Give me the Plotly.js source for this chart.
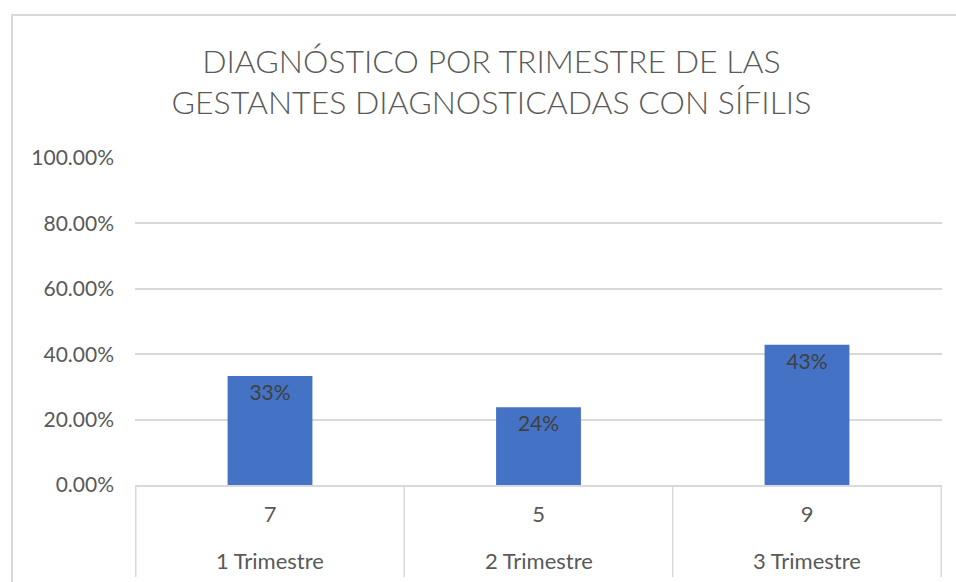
<!DOCTYPE html>
<html>
<head>
<meta charset="utf-8">
<script src="https://cdn.plot.ly/plotly-3.0.1.min.js"></script>
<style>
html,body{margin:0;padding:0;background:#fff;}
#wrap{position:relative;width:956px;height:582px;overflow:hidden;}
#chart{position:absolute;left:0;top:0;width:956px;height:582px;}
#frame{position:absolute;left:11px;top:14px;width:960px;height:600px;border-left:2px solid #d9d9d9;border-top:2px solid #d9d9d9;pointer-events:none;}
</style>
</head>
<body>
<div id="wrap"><div id="chart"></div><div id="frame"></div></div>
<script>
const trimestres = ["1 Trimestre", "2 Trimestre", "3 Trimestre"];
const casos = ["7", "5", "9"];
const porcentajes = [0.3333, 0.2381, 0.4286];
const yTicks = [0, 0.2, 0.4, 0.6, 0.8, 1.0];

const FONT = 'Lato, "Open Sans", sans-serif';

const trace = {
  type: 'bar',
  x: trimestres,
  y: porcentajes,
  width: 0.316,
  marker: {color: '#4472C4'},
  texttemplate: '%{y:.0%}',
  textposition: 'inside',
  insidetextanchor: 'end',
  textangle: 0,
  textfont: {family: FONT, size: 21, color: '#404040'},
  hoverinfo: 'skip'
};

// category divider lines below the axis (layout decoration)
const dividers = [];
for (let i = 0; i <= trimestres.length; i++) {
  dividers.push({
    type: 'line', xref: 'x', yref: 'paper',
    x0: i - 0.5, x1: i - 0.5, y0: 0, y1: -0.281,
    line: {color: '#d9d9d9', width: 1.5}
  });
}

// outer category labels
const outerLabels = trimestres.map(t => ({
  x: t, xref: 'x', y: -0.2294, yref: 'paper',
  text: t, showarrow: false, xanchor: 'center', yanchor: 'middle',
  font: {family: FONT, size: 22, color: '#595959'}
}));

const layout = {
  width: 956, height: 582,
  margin: {l: 135, r: 14, t: 158, b: 97},
  paper_bgcolor: '#ffffff', plot_bgcolor: '#ffffff',
  showlegend: false,
  title: {
    text: 'DIAGNÓSTICO POR TRIMESTRE DE LAS<br>GESTANTES DIAGNOSTICADAS CON SÍFILIS',
    font: {family: FONT, size: 32, color: '#595959', weight: 300},
    x: 0.514, xref: 'container', xanchor: 'center',
    y: 0.875, yref: 'container', yanchor: 'middle'
  },
  xaxis: {
    type: 'category',
    tickvals: trimestres,
    ticktext: casos,
    showline: true, linecolor: '#d9d9d9', linewidth: 2,
    showgrid: false, ticks: '', ticklabelstandoff: 9,
    tickfont: {family: FONT, size: 22, color: '#595959'},
    fixedrange: true
  },
  yaxis: {
    range: [0, 1],
    tickvals: yTicks,
    tickformat: '.2%',
    showline: false, zeroline: false,
    gridcolor: '#d9d9d9', gridwidth: 2,
    ticks: '', ticklabelstandoff: 20,
    tickfont: {family: FONT, size: 21, color: '#595959'},
    fixedrange: true
  },
  shapes: dividers,
  annotations: outerLabels
};

Plotly.newPlot('chart', [trace], layout, {staticPlot: true, displayModeBar: false});
</script>
</body>
</html>
